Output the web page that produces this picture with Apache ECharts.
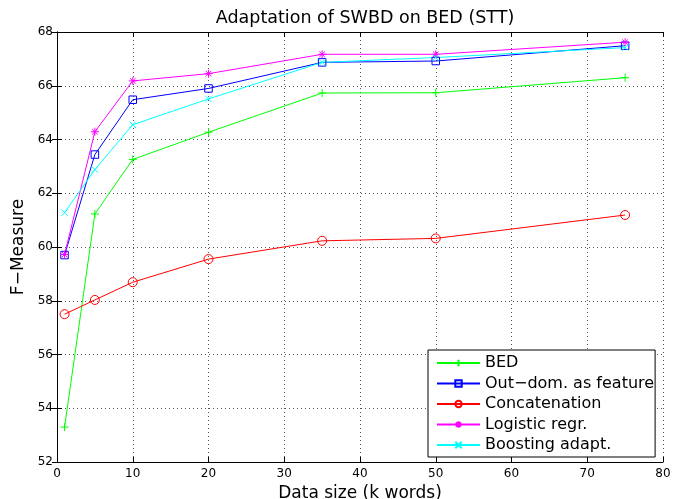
<!DOCTYPE html>
<html>
<head>
<meta charset="utf-8">
<script src="https://cdn.jsdelivr.net/npm/echarts@6/dist/echarts.min.js"></script>
<style>
  html, body { margin: 0; padding: 0; background: #fff; }
  #main { width: 678px; height: 499px; }
</style>
</head>
<body>
<div id="main"></div>
<script>
var dataSize = [1, 5, 10, 20, 35, 50, 75];

var bed        = [53.30, 61.23, 63.26, 64.27, 65.73, 65.74, 66.30];
var outDom     = [59.70, 63.44, 65.48, 65.90, 66.87, 66.92, 67.49];
var concat     = [57.50, 58.03, 58.69, 59.55, 60.23, 60.32, 61.19];
var logistic   = [59.72, 64.29, 66.18, 66.45, 67.17, 67.17, 67.62];
var boosting   = [61.28, 62.88, 64.55, 65.51, 66.87, 67.05, 67.42];

var seriesNames = ['BED', 'Out\u2212dom. as feature', 'Concatenation', 'Logistic regr.', 'Boosting adapt.'];
var seriesColors = ['#00ff00', '#0000ff', '#ff0000', '#ff00ff', '#00ffff'];

var plusSym = 'path://M5,0 L5,10 M0,5 L10,5';
var starSym = 'path://M5,0 L5,10 M0,5 L10,5 M1.5,1.5 L8.5,8.5 M8.5,1.5 L1.5,8.5';
var crossSym = 'path://M0,0 L10,10 M10,0 L0,10';

function pairs(ys) {
  return dataSize.map(function (x, i) { return [x, ys[i]]; });
}

function mk(name, ys, color, symbol, size, fill) {
  return {
    name: name,
    type: 'line',
    data: pairs(ys),
    symbol: symbol,
    symbolSize: size,
    showAllSymbol: true,
    lineStyle: { color: color, width: 1 },
    itemStyle: { color: fill, borderColor: color, borderWidth: 1 },
    emphasis: { disabled: true },
    animation: false
  };
}

var font = 'DejaVu Sans, Liberation Sans, sans-serif';
var chart = echarts.init(document.getElementById('main'));

var option = {
  backgroundColor: '#fff',
  animation: false,
  title: {
    text: 'Adaptation of SWBD on BED (STT)',
    left: 360, top: 4, textAlign: 'center',
    textStyle: { fontFamily: font, fontSize: 17.5, fontWeight: 'normal', color: '#000' }
  },
  grid: { left: 57, right: 15, top: 32, bottom: 37, outerBoundsMode: 'none' },
  legend: {
    orient: 'vertical',
    left: 428, top: 350,
    borderColor: '#000', borderWidth: 1,
    padding: [5, 1, 4, 8],
    itemWidth: 43, itemHeight: 8, itemGap: 4.5,
    backgroundColor: '#fff',
    textStyle: { fontFamily: font, fontSize: 16, color: '#000' },
    data: seriesNames
  },
  xAxis: [{
    type: 'value', min: 0, max: 80, interval: 10,
    name: 'Data size (k words)', nameLocation: 'middle', nameGap: 18,
    nameTextStyle: { fontFamily: font, fontSize: 17, color: '#000' },
    axisLine: { show: true, lineStyle: { color: '#000', width: 1 } },
    axisTick: { show: true, inside: true, length: 5, lineStyle: { color: '#000' } },
    axisLabel: { fontFamily: font, fontSize: 12, color: '#000', margin: 6 },
    splitLine: { show: true, lineStyle: { color: '#555', type: [1, 3], width: 1 } }
  }, {
    type: 'value', min: 0, max: 80, interval: 10, position: 'top',
    axisLine: { show: true, lineStyle: { color: '#000', width: 1 } },
    axisTick: { show: true, inside: true, length: 5, lineStyle: { color: '#000' } },
    axisLabel: { show: false },
    splitLine: { show: false }
  }],
  yAxis: [{
    type: 'value', min: 52, max: 68, interval: 2,
    name: 'F\u2212Measure', nameLocation: 'middle', nameGap: 25,
    nameTextStyle: { fontFamily: font, fontSize: 17, color: '#000' },
    axisLine: { show: true, lineStyle: { color: '#000', width: 1 } },
    axisTick: { show: true, inside: true, length: 5, lineStyle: { color: '#000' } },
    axisLabel: { fontFamily: font, fontSize: 12, color: '#000', margin: 4 },
    splitLine: { show: true, lineStyle: { color: '#555', type: [1, 3], width: 1 } }
  }, {
    type: 'value', min: 52, max: 68, interval: 2, position: 'right',
    axisLine: { show: true, lineStyle: { color: '#000', width: 1 } },
    axisTick: { show: true, inside: true, length: 5, lineStyle: { color: '#000' } },
    axisLabel: { show: false },
    splitLine: { show: false }
  }],
  series: [
    mk(seriesNames[0], bed, seriesColors[0], plusSym, 8, 'none'),
    mk(seriesNames[1], outDom, seriesColors[1], 'rect', 7.5, 'rgba(0,0,0,0)'),
    mk(seriesNames[2], concat, seriesColors[2], 'circle', 9, 'rgba(0,0,0,0)'),
    mk(seriesNames[3], logistic, seriesColors[3], starSym, 8, 'none'),
    mk(seriesNames[4], boosting, seriesColors[4], crossSym, 6.5, 'none')
  ]
};

chart.setOption(option);
</script>
</body>
</html>
